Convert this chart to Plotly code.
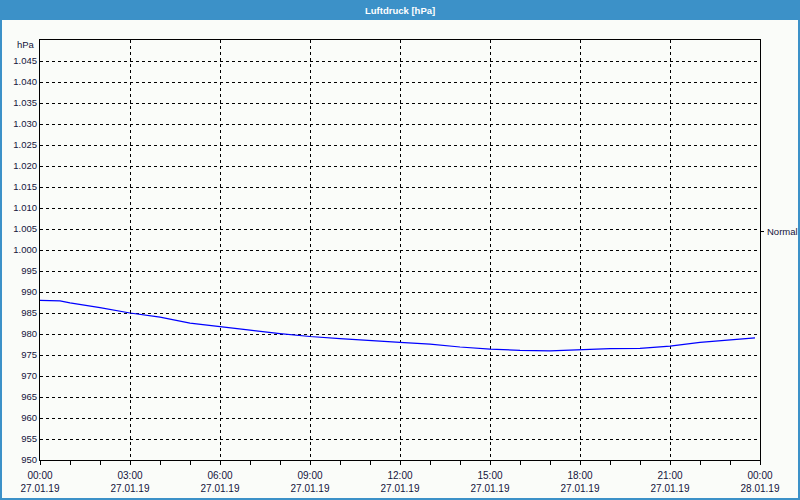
import plotly.graph_objects as go

# ---- data ----
times = ["2019-01-27 00:00", "2019-01-27 00:40", "2019-01-27 01:00", "2019-01-27 02:00",
         "2019-01-27 03:00", "2019-01-27 04:00", "2019-01-27 05:00", "2019-01-27 06:00",
         "2019-01-27 07:00", "2019-01-27 08:00", "2019-01-27 09:00", "2019-01-27 10:00",
         "2019-01-27 11:00", "2019-01-27 12:00", "2019-01-27 13:00", "2019-01-27 14:00",
         "2019-01-27 15:00", "2019-01-27 16:00", "2019-01-27 17:00", "2019-01-27 18:00",
         "2019-01-27 19:00", "2019-01-27 20:00", "2019-01-27 21:00", "2019-01-27 22:00",
         "2019-01-27 23:00", "2019-01-27 23:50"]
pressure = [988.0, 987.9, 987.4, 986.3, 985.0, 984.0, 982.6, 981.7, 980.9, 980.1, 979.4,
            978.9, 978.4, 978.0, 977.6, 976.9, 976.4, 976.1, 976.0, 976.3, 976.5, 976.6,
            977.1, 978.0, 978.6, 979.1]

x_tickvals = ["2019-01-27 00:00", "2019-01-27 03:00", "2019-01-27 06:00", "2019-01-27 09:00",
              "2019-01-27 12:00", "2019-01-27 15:00", "2019-01-27 18:00", "2019-01-27 21:00",
              "2019-01-28 00:00"]
x_times = ["00:00", "03:00", "06:00", "09:00", "12:00", "15:00", "18:00", "21:00", "00:00"]
x_dates = ["27.01.19"] * 8 + ["28.01.19"]

y_tickvals = list(range(950, 1050, 5))
y_ticktext = [("{:,}".format(v)).replace(",", ".") for v in y_tickvals]

normal_value = 1004.4
title_text = "Luftdruck [hPa]"
unit_text = "hPa"

# ---- layout helpers ----
W, H = 800, 500
L, R, T, B = 40, 40, 40, 40
def xp(px):
    return (px - L) / (W - L - R)
def yp(py):
    return (H - B - py) / (H - T - B)

BLUE = "#3c91c8"
TXT = "#14143c"
FONT = "Liberation Sans"

fig = go.Figure()
fig.add_trace(go.Scatter(x=times, y=pressure, mode="lines",
                         line=dict(color="#0000ff", width=1.2), hoverinfo="skip"))

fig.update_layout(
    width=W, height=H,
    margin=dict(l=L, r=R, t=T, b=B),
    paper_bgcolor="#fafcf9", plot_bgcolor="#fafcf9",
    showlegend=False,
    font=dict(family=FONT, size=9.5, color=TXT),
    xaxis=dict(
        type="date",
        range=["2019-01-27 00:00", "2019-01-28 00:00"],
        tickvals=x_tickvals,
        ticktext=[f"{t}<br>{d}" for t, d in zip(x_times, x_dates)],
        ticks="outside", ticklen=4, tickcolor="black", tickwidth=1,
        ticklabelstandoff=2,
        minor=dict(dtick=3600000, ticks="outside", ticklen=4, tickcolor="black", showgrid=False),
        showgrid=True, gridcolor="black", griddash="3px,3px", gridwidth=1,
        showline=True, linecolor="black", linewidth=1, mirror=True,
        zeroline=False, fixedrange=True, automargin=False,
        tickfont=dict(family=FONT, size=10, color=TXT),
    ),
    yaxis=dict(
        range=[950, 1050],
        tickvals=y_tickvals, ticktext=y_ticktext,
        ticks="", showgrid=True, gridcolor="black", griddash="3px,3px", gridwidth=1,
        showline=True, linecolor="black", linewidth=1, mirror=True,
        zeroline=False, fixedrange=True, automargin=False,
        tickfont=dict(family=FONT, size=9.5, color=TXT),
    ),
)

shapes = [
    # title bar
    dict(type="rect", xref="paper", yref="paper", x0=xp(0), x1=xp(800), y0=yp(20), y1=yp(0),
         fillcolor=BLUE, line=dict(width=0), layer="above"),
    # outer frame
    dict(type="rect", xref="paper", yref="paper", x0=xp(1), x1=xp(799), y0=yp(499), y1=yp(0),
         fillcolor="rgba(0,0,0,0)", line=dict(color=BLUE, width=2), layer="above"),
    # normal tick on right side
    dict(type="line", xref="paper", yref="y", x0=xp(760), x1=xp(764),
         y0=normal_value, y1=normal_value, line=dict(color="black", width=1)),
]
fig.update_layout(shapes=shapes)

fig.add_annotation(text=f"<b>{title_text}</b>", xref="paper", yref="paper",
                   x=xp(400), y=yp(10), showarrow=False,
                   font=dict(family=FONT, size=9.5, color="white"),
                   xanchor="center", yanchor="middle")
fig.add_annotation(text=unit_text, xref="paper", yref="paper",
                   x=xp(37), y=yp(45), showarrow=False, xanchor="right", yanchor="middle",
                   font=dict(family=FONT, size=9.5, color=TXT))
fig.add_annotation(text="Normal", xref="paper", yref="y",
                   x=xp(765), y=normal_value, showarrow=False, xanchor="left", yanchor="middle",
                   font=dict(family=FONT, size=9.5, color=TXT))

fig.write_html("out.html")
